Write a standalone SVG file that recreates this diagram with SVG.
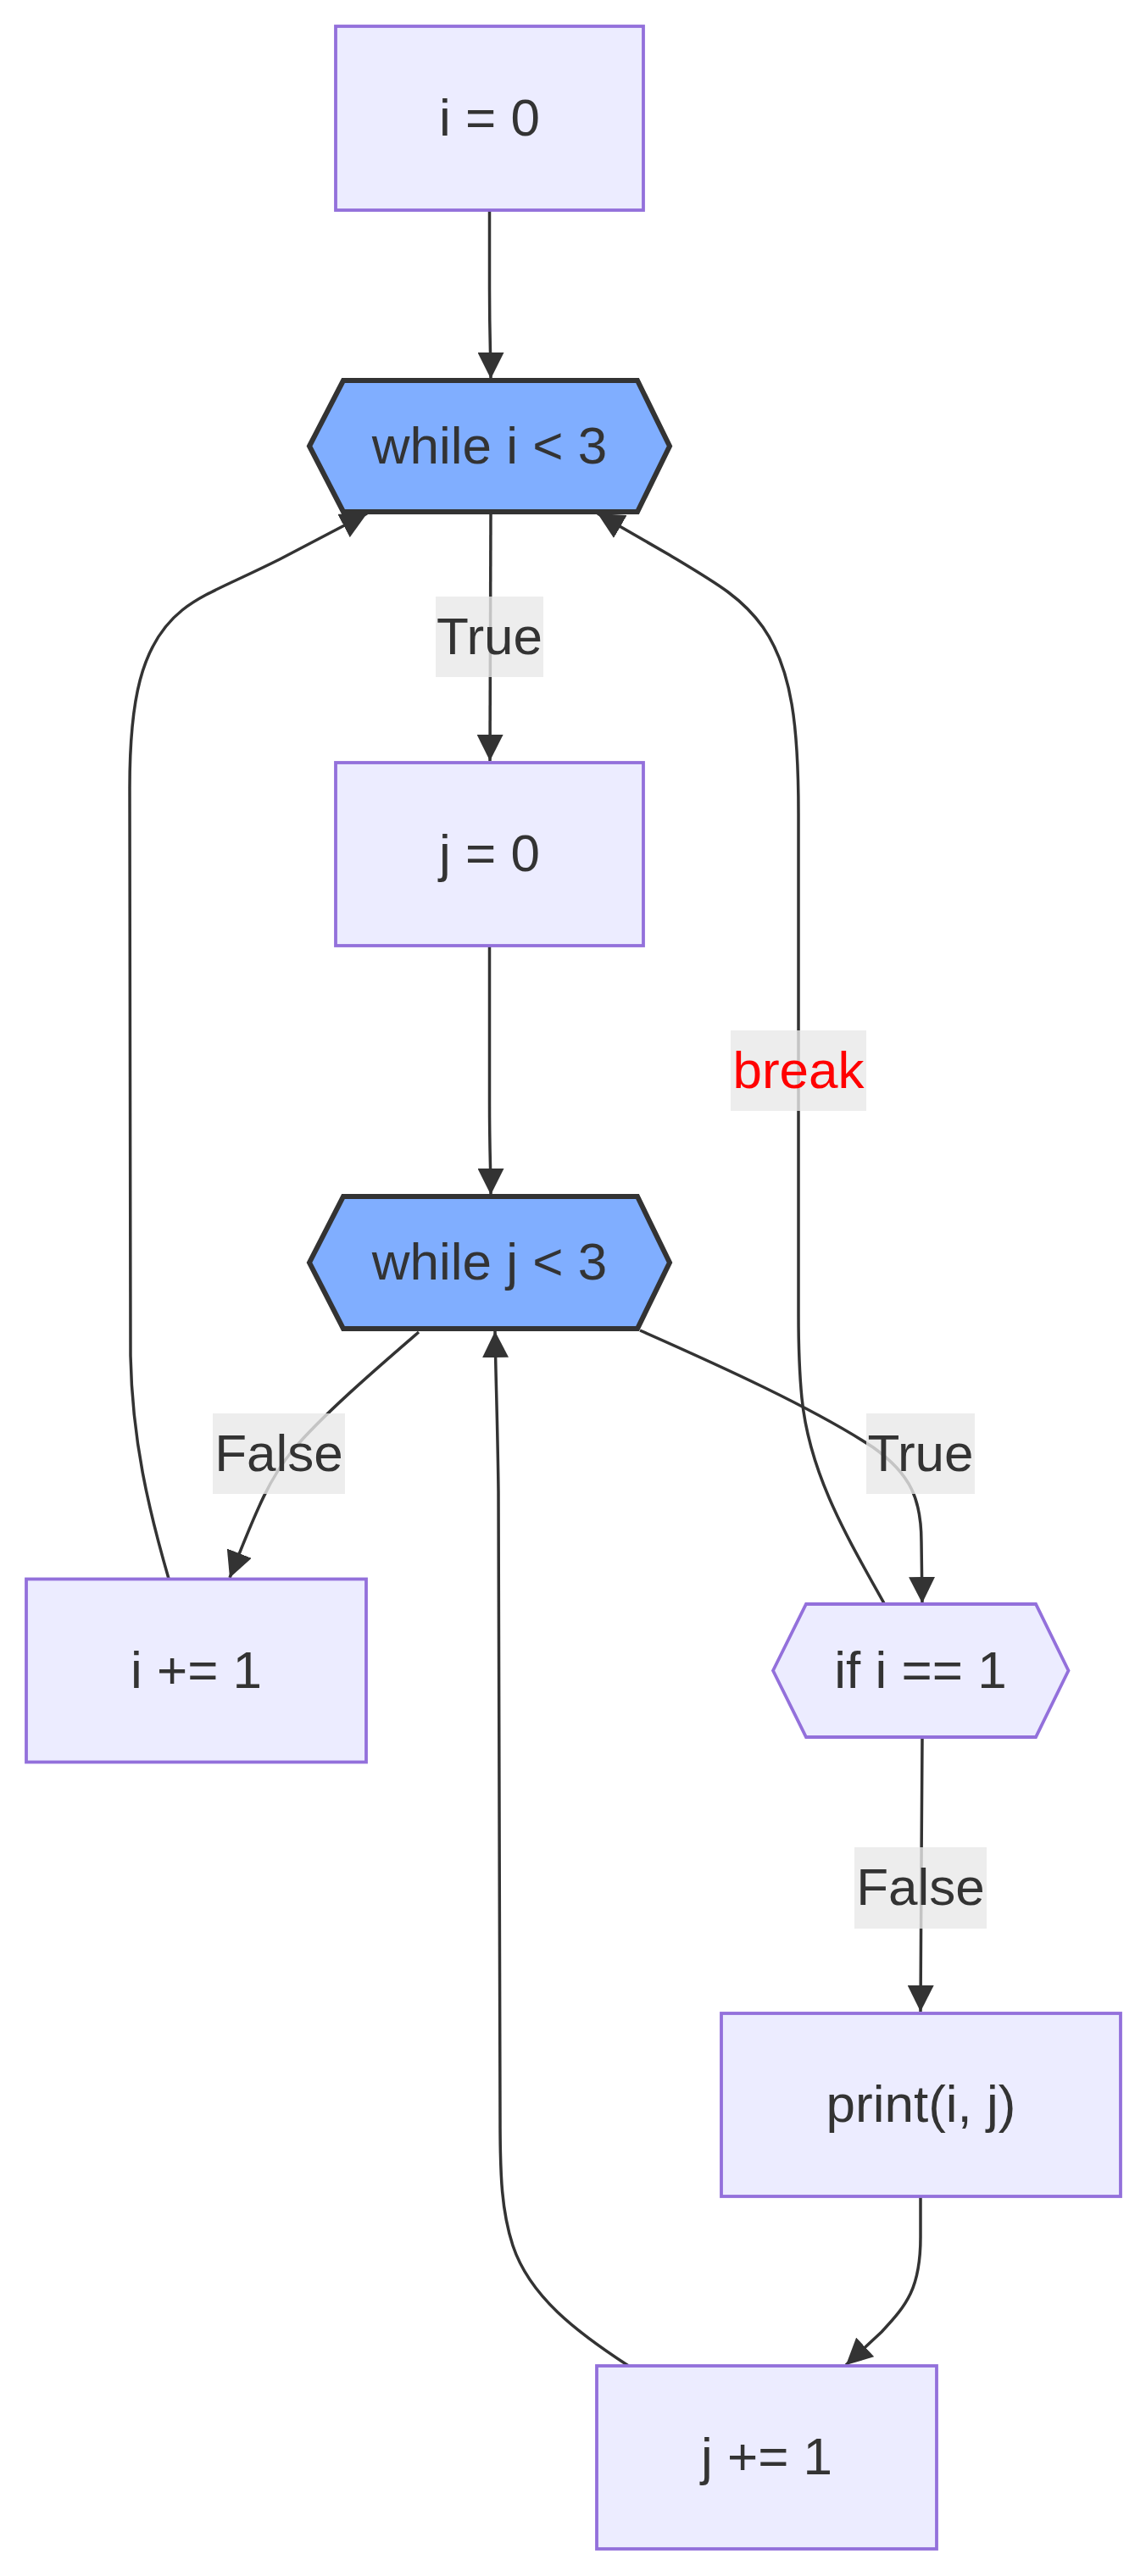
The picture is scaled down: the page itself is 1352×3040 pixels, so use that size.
<svg xmlns="http://www.w3.org/2000/svg" width="1352" height="3040" viewBox="0 0 1352 3040">
<style>
.node rect, .node polygon { fill: #ECECFF; stroke: #9370DB; stroke-width: 3.8; }
.node polygon.loop { fill: #80AEFF; stroke: #333333; stroke-width: 6; }
.label { font-family: "Liberation Sans", Arial, sans-serif; font-size: 62px; fill: #333333; text-anchor: middle; }
.edge { fill: none; stroke: #333333; stroke-width: 3.5; marker-end: url(#arrow); }
.elbl rect { fill: #E8E8E8; fill-opacity: 0.8; }
.red { fill: #FF0000; }
</style>
<defs>
<marker id="arrow" viewBox="0 0 10 10" refX="10" refY="5" markerUnits="userSpaceOnUse" markerWidth="31" markerHeight="31" orient="auto">
<path d="M0,0 L10,5 L0,10 z" fill="#333333"/>
</marker>
</defs>
<rect width="1352" height="3040" fill="#FFFFFF"/>
<g id="connectors">
<path class="edge" d="M577.5,248 L577.5,340 C577.5,400 579,420 579,447"/>
<path class="edge" d="M579,604 L578,898"/>
<path class="edge" d="M577.5,1116 L577.5,1300 C577.5,1360 579,1380 579,1410"/>
<path class="edge" d="M494,1572 C450,1610 380,1670 345,1712 C320,1742 305,1775 271,1862"/>
<path class="edge" d="M755,1570 C850,1612 960,1662 1030,1708 C1075,1740 1087,1770 1087,1820 L1088,1892"/>
<path class="edge" d="M1043.5,1893 C1000,1815 955,1740 946,1650 C942,1610 942,1580 942,1550 L942,960 C942,860 935,790 900,740 C875,705 845,688 790,655 L705,606"/>
<path class="edge" d="M199,1863 C175,1780 156,1700 154,1600 L153,930 C153,830 165,760 215,720 C240,700 270,690 330,660 L433,606"/>
<path class="edge" d="M1088,2051 L1087,2200 L1086,2374"/>
<path class="edge" d="M1086,2592 L1086,2640 C1086,2700 1070,2720 1040,2752 L998,2791"/>
<path class="edge" d="M741.5,2792 C680,2752 625,2710 605,2650 C592,2610 590,2570 590,2500 L588,1760 C587,1680 585,1630 584,1571"/>
</g>
<g id="edge-labels">
<g class="elbl" id="lbl-true-1"><rect x="514" y="704" width="127" height="95"/><text class="label" x="577.5" y="772">True</text></g>
<g class="elbl" id="lbl-break"><rect x="862" y="1216" width="160" height="95"/><text class="label red" x="942" y="1284">break</text></g>
<g class="elbl" id="lbl-false-1"><rect x="251" y="1668" width="156" height="95"/><text class="label" x="329" y="1736">False</text></g>
<g class="elbl" id="lbl-true-2"><rect x="1022" y="1668" width="128" height="95"/><text class="label" x="1086" y="1736">True</text></g>
<g class="elbl" id="lbl-false-2"><rect x="1008" y="2180" width="156" height="96"/><text class="label" x="1086" y="2248">False</text></g>
</g>
<g id="n-i0" class="node"><rect x="396" y="31" width="363" height="217"/><text class="label" x="577.5" y="160">i = 0</text></g>
<g id="n-whilei" class="node"><polygon class="loop" points="365,526.5 405,449 752,449 790,526.5 752,604 405,604"/><text class="label" x="577.5" y="547">while i &lt; 3</text></g>
<g id="n-j0" class="node"><rect x="396" y="900" width="363" height="216"/><text class="label" x="577.5" y="1028">j = 0</text></g>
<g id="n-whilej" class="node"><polygon class="loop" points="365,1490 405,1412 752,1412 790,1490 752,1568 405,1568"/><text class="label" x="577.5" y="1510">while j &lt; 3</text></g>
<g id="n-iinc" class="node"><rect x="31" y="1863.5" width="401" height="216"/><text class="label" x="231.5" y="1992">i += 1</text></g>
<g id="n-if" class="node"><polygon points="912,1971.5 951,1893 1222,1893 1260.5,1971.5 1222,2050 951,2050"/><text class="label" x="1086" y="1992">if i == 1</text></g>
<g id="n-print" class="node"><rect x="851" y="2376" width="471" height="216"/><text class="label" x="1086.5" y="2504">print(i, j)</text></g>
<g id="n-jinc" class="node"><rect x="704" y="2792" width="401" height="216"/><text class="label" x="904.5" y="2920">j += 1</text></g>
</svg>
